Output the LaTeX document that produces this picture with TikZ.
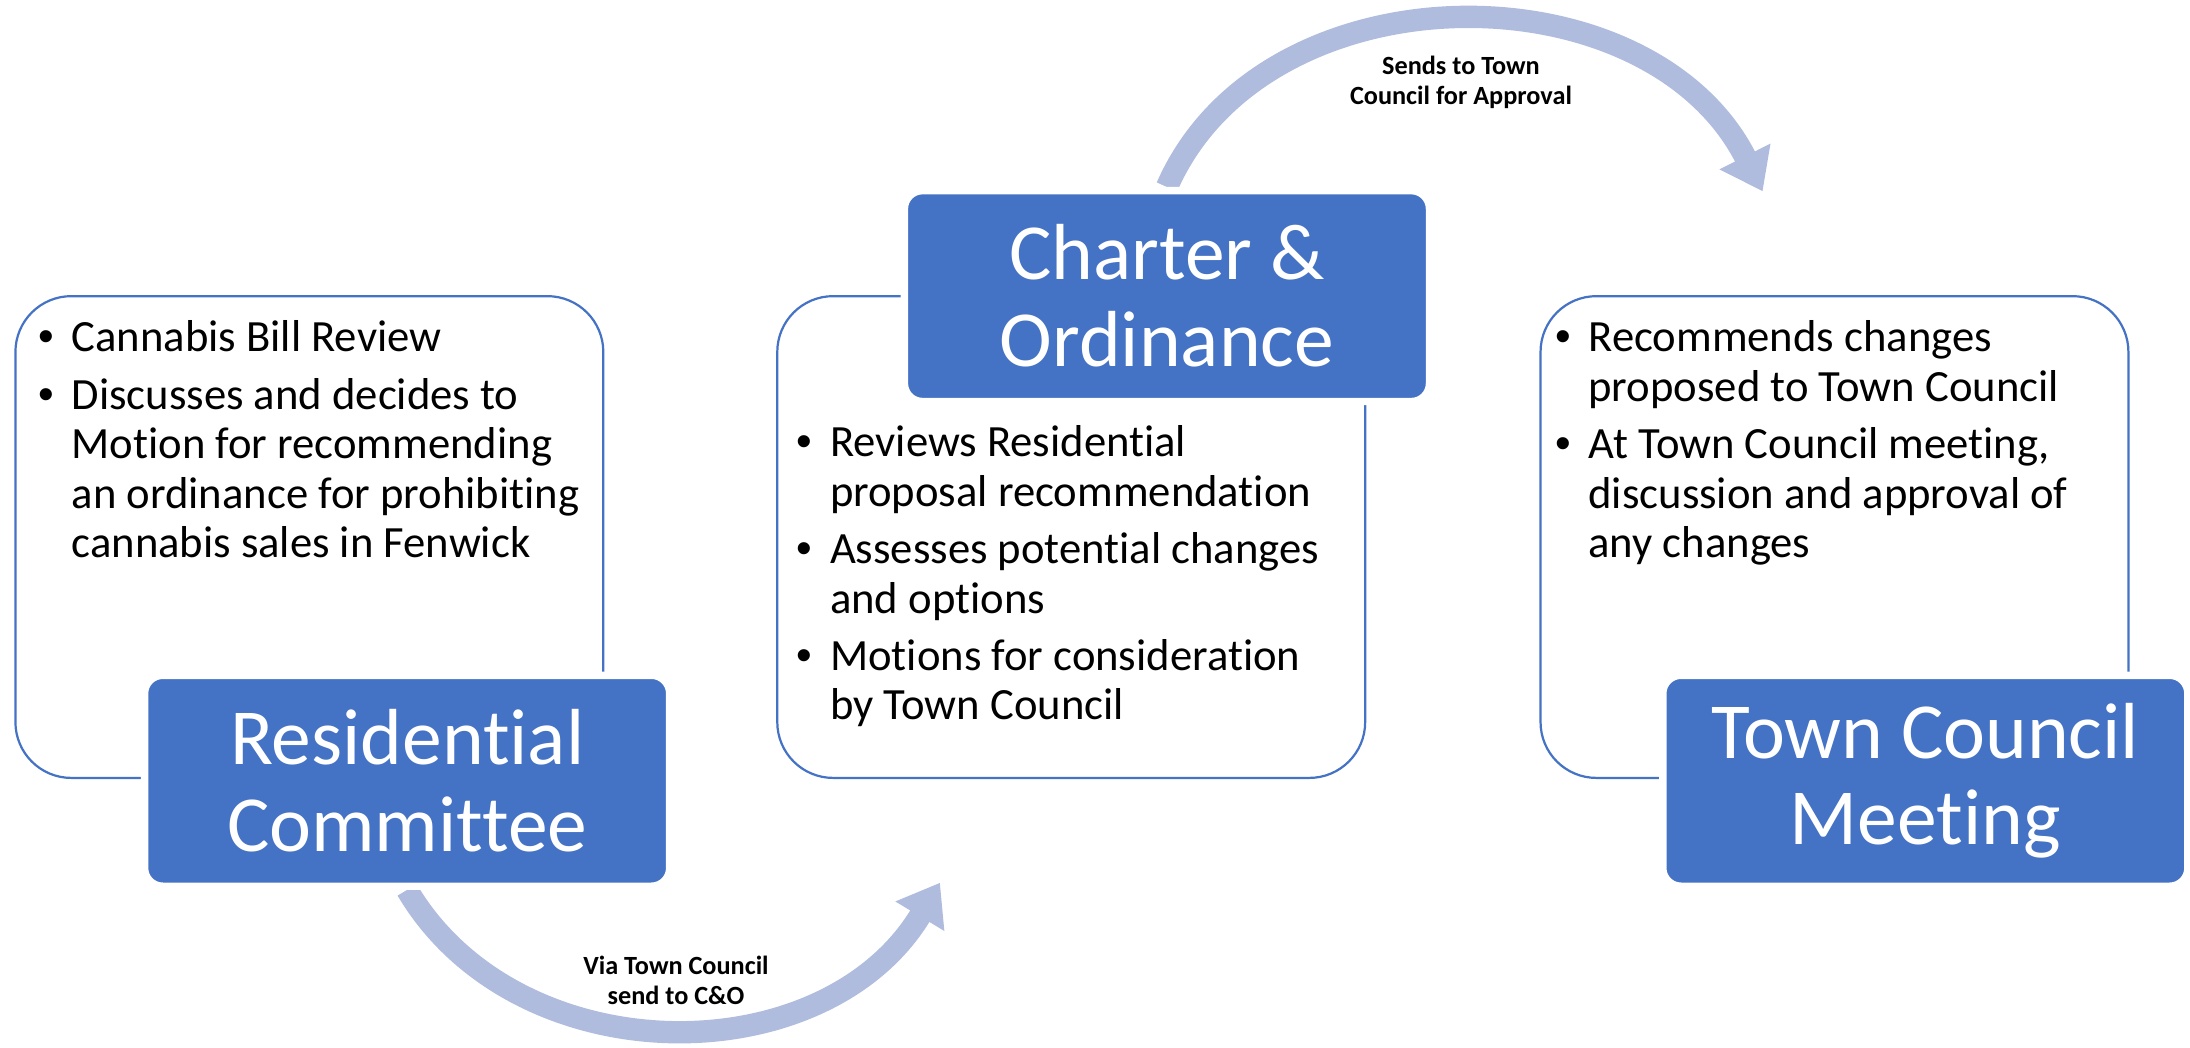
\documentclass[tikz,border=0pt]{standalone}
\usepackage{fontspec}
\setmainfont{Carlito}[Ligatures=CommonOff]
\newfontfamily\bulfont{Liberation Sans}
\usetikzlibrary{positioning, arrows.meta, backgrounds}
\definecolor{boxblue}{RGB}{68,114,196}
\definecolor{arrowblue}{RGB}{175,188,222}
\newcommand{\bitem}[1]{\par\hangindent=0.48cm\hangafter=1\noindent\makebox[0.48cm][l]{\bulfont\textbullet}#1\par}
\newcommand{\bullist}[1]{\parbox[t]{8.6cm}{\raggedright\fontsize{18.2}{20.2}\selectfont\setlength{\parskip}{3.1pt}#1}}

\begin{document}
\begin{tikzpicture}[x=0.02cm, y=-0.02cm,
  infobox/.style={rectangle, draw=boxblue, line width=0.9pt, fill=white, rounded corners=0.8cm, minimum width=8.42cm, minimum height=6.9cm, inner sep=0pt},
  titlebox/.style={rectangle, draw=white, line width=3pt, fill=boxblue, rounded corners=0.26cm, minimum width=7.52cm, minimum height=3.02cm, align=center, text=white, font=\fontsize{32.4}{35.4}\selectfont, inner sep=0pt},
  bullets/.style={anchor=base west, inner sep=0pt},
  steplabel/.style={align=center, font=\bfseries\fontsize{10.7}{12}\selectfont},
  flowarrow/.style={arrowblue, line width=0.32cm, -{Triangle[length=0.56cm, width=0.78cm]}}]
			\useasboundingbox (0,0) rectangle (1568,750);
			\node (rcinfo) [infobox] at (221.5,384.5) {};
			\node (coinfo) [infobox, right=2.46cm of rcinfo] {};
			\node (tcinfo) [infobox, right=2.48cm of coinfo] {};
			\node (rc) [titlebox] at (291.5,559) {Residential\\Committee};
			\node (co) [titlebox] at (835.5,212) {Charter \&\\Ordinance};
			\node (tc) [titlebox] at (1378.5,559) {Town Council\\Meeting};
			\node (rctext) [bullets] at (27,252) {\bullist{%
				\bitem{Cannabis Bill Review}
				\bitem{Discusses and decides to\newline Motion for recommending\newline an ordinance for prohibiting\newline cannabis sales in Fenwick}}};
			\node (cotext) [bullets] at (570,327) {\bullist{%
				\bitem{Reviews Residential\newline proposal recommendation}
				\bitem{Assesses potential changes\newline and options}
				\bitem{Motions for consideration\newline by Town Council}}};
			\node (tctext) [bullets] at (1113,252) {\bullist{%
				\bitem{Recommends changes\newline proposed to Town Council}
				\bitem{At Town Council meeting,\newline discussion and approval of\newline any changes}}};
			\coordinate (cotip) at (673,632);
			\coordinate (tctip) at (1262,137);
			\node (viaco) [steplabel] at (484,702) {Via Town Council\\send to C\&O};
			\node (sendtc) [steplabel] at (1046,59) {Sends to Town\\Council for Approval};
			\begin{scope}[on background layer]
				\draw[flowarrow] (rc.south) .. controls (370,770) and (590,770) .. (cotip);
				\draw[flowarrow] (co.north) .. controls (905,-25) and (1180,-25) .. (tctip);
			\end{scope}
		\end{tikzpicture}
\end{document}
